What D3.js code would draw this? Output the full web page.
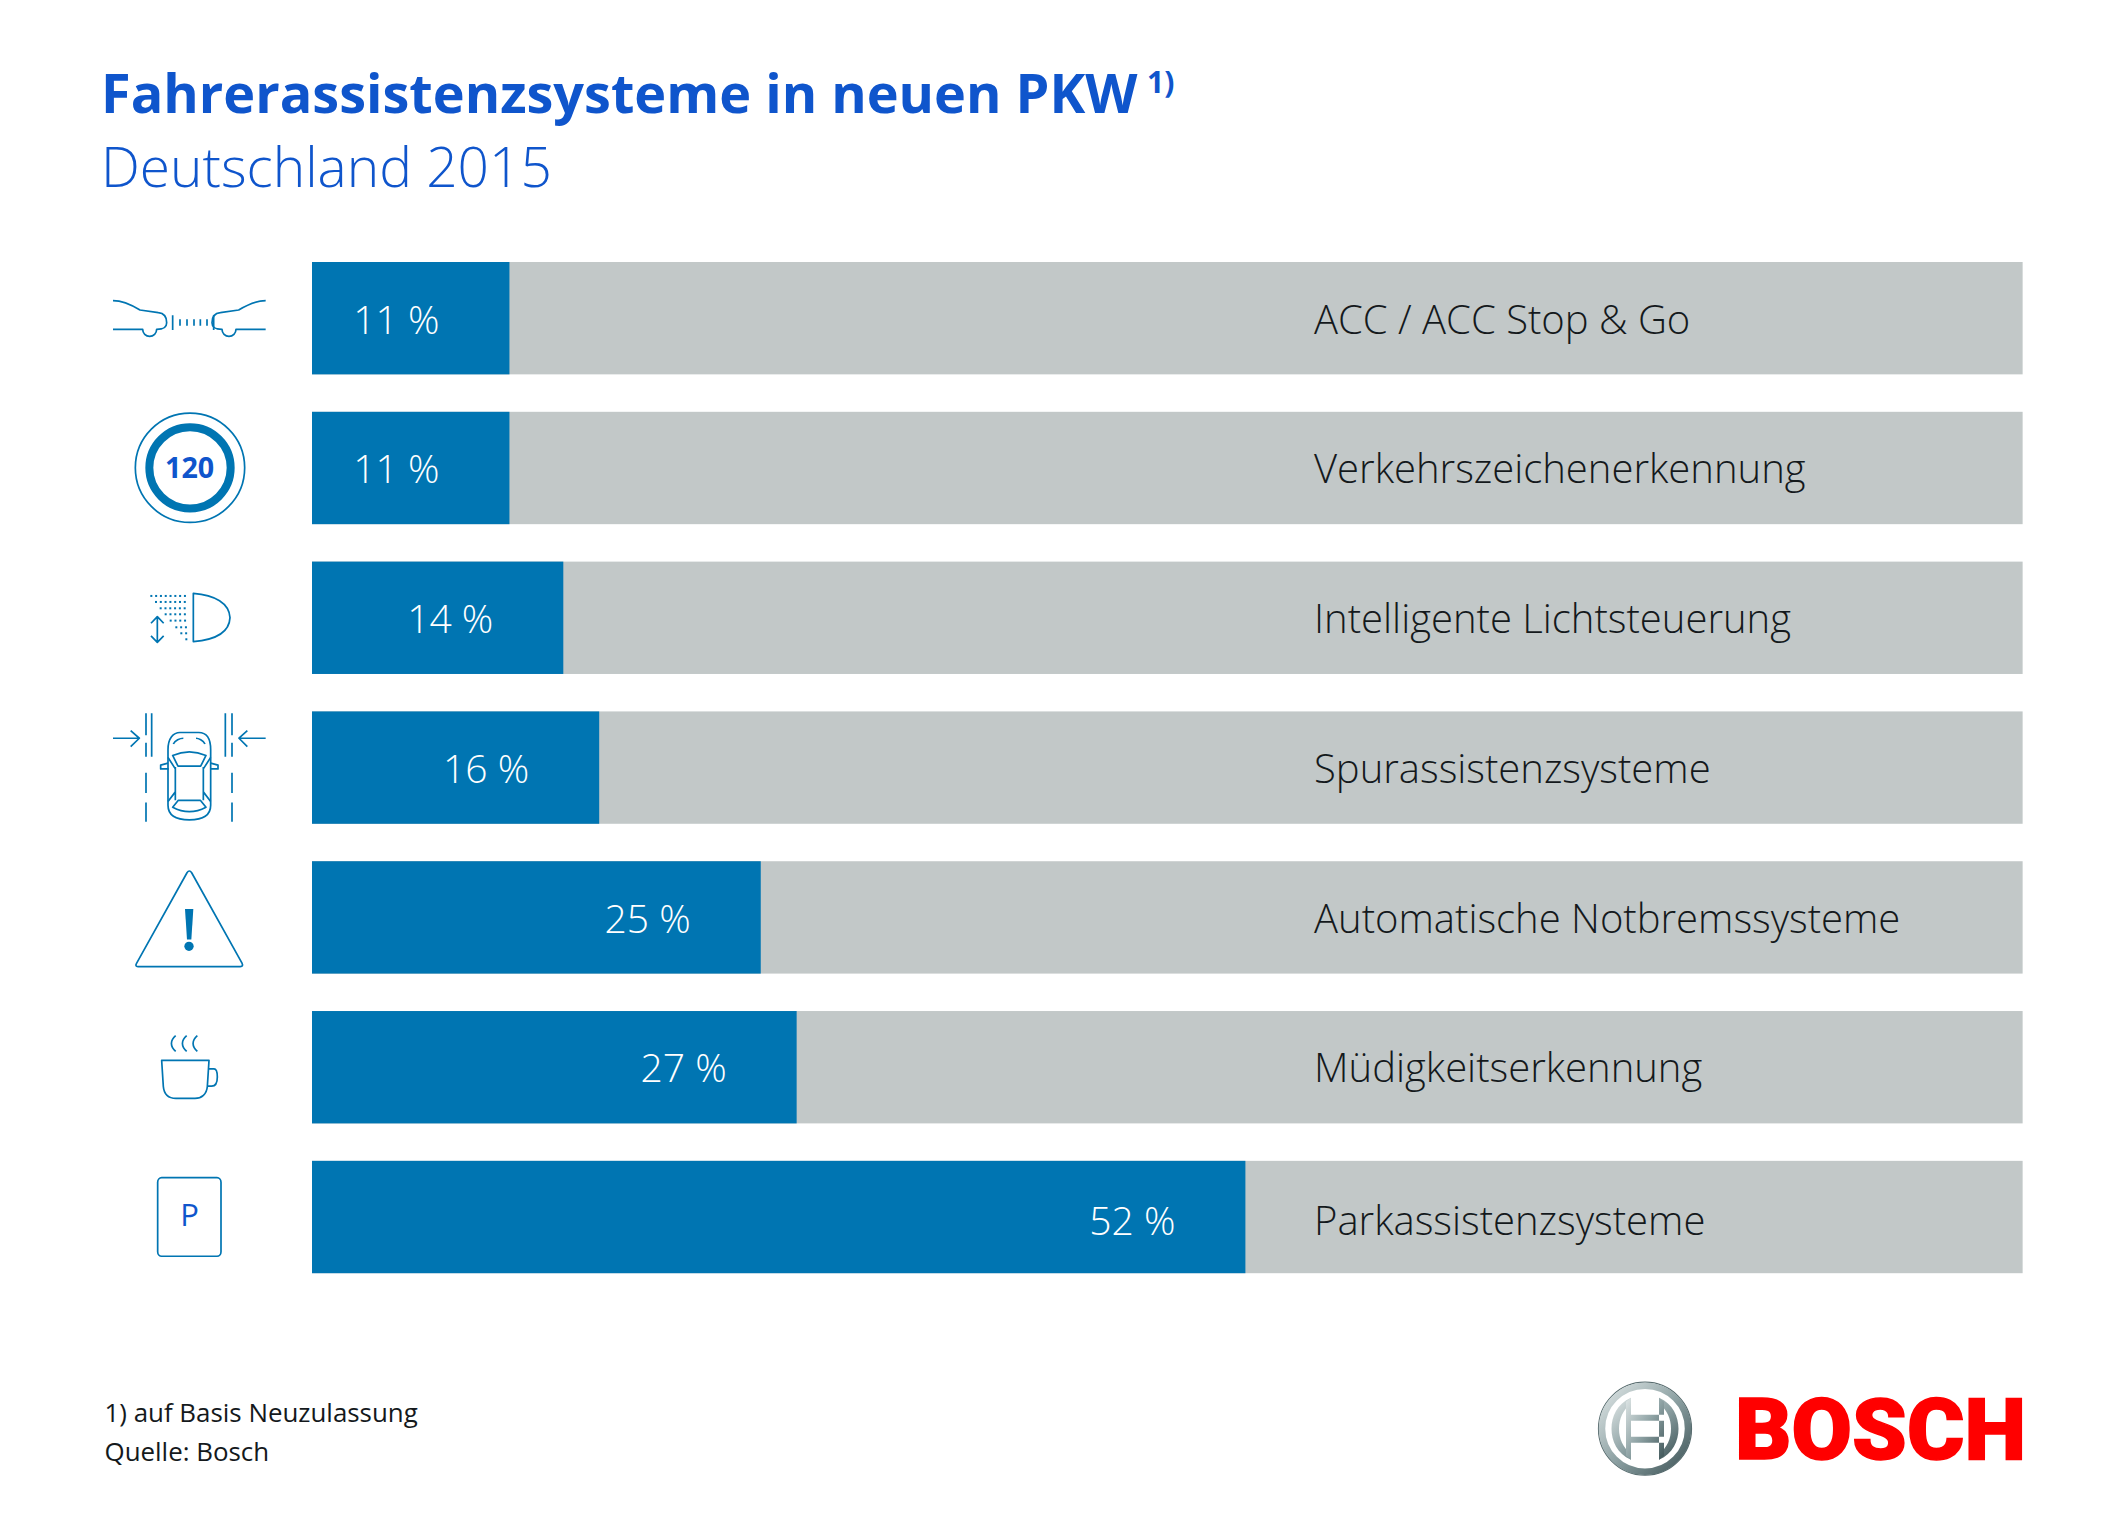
<!DOCTYPE html>
<html>
<head>
<meta charset="utf-8">
<title>Fahrerassistenzsysteme in neuen PKW</title>
<script src="https://cdn.jsdelivr.net/npm/d3@7"></script>
<style>
  html, body { margin: 0; padding: 0; background: #fff; }
  svg { display: block; }
  text { font-family: "Open Sans", sans-serif; }
  .icon path, .icon line, .icon circle, .icon rect {
    fill: none; stroke: #0075b2; stroke-width: 1.7px; vector-effect: non-scaling-stroke;
    stroke-linejoin: round;
  }
</style>
</head>
<body>
<div id="chart"></div>
<script>
// Data
var systems = ["ACC / ACC Stop & Go", "Verkehrszeichenerkennung", "Intelligente Lichtsteuerung",
  "Spurassistenzsysteme", "Automatische Notbremssysteme", "Müdigkeitserkennung", "Parkassistenzsysteme"];
var shares = [11, 11, 14, 16, 25, 27, 52];
var trackEnd = 95.3;   // the grey bar stops short of 100 in the original

var width = 2127, height = 1536;
var blue = "#0075b2", grey = "#c2c8c8", titleBlue = "#0f55cc", ink = "#14191c";

var svg = d3.select("#chart").append("svg")
    .attr("width", width)
    .attr("height", height);

var x = d3.scaleLinear().domain([0, 100]).range([312, 2107]);
var y = d3.scaleBand().domain(systems).range([262, 1273.2]).paddingInner(0.25);

// small baseline differences between the rows of the original
var rowNudge = [0, 0, 0, 0, 0, -1, 2.5];

// Title
svg.append("text").attr("x", 101).attr("y", 112.5)
    .attr("fill", titleBlue).attr("font-size", 54).attr("font-weight", 700)
    .text("Fahrerassistenzsysteme in neuen PKW");
svg.append("text").attr("x", 1147).attr("y", 93)
    .attr("fill", titleBlue).attr("font-size", 30).attr("font-weight", 700)
    .text("1)");
svg.append("text").attr("x", 101).attr("y", 186.5)
    .attr("fill", titleBlue).attr("font-size", 55).attr("font-weight", 300)
    .text("Deutschland 2015");

// Bars
var rows = svg.selectAll(".row")
    .data(systems)
  .enter().append("g")
    .attr("class", "row");

rows.append("rect")
    .attr("x", x(0))
    .attr("y", function(d) { return y(d); })
    .attr("width", x(trackEnd) - x(0))
    .attr("height", y.bandwidth())
    .attr("fill", grey);

rows.append("rect")
    .attr("x", x(0))
    .attr("y", function(d) { return y(d); })
    .attr("width", function(d, i) { return x(shares[i]) - x(0); })
    .attr("height", y.bandwidth())
    .attr("fill", blue);

rows.append("text")
    .attr("x", function(d, i) { return x(shares[i]) - 70; })
    .attr("y", function(d, i) { return y(d) + 71.5 + rowNudge[i]; })
    .attr("text-anchor", "end")
    .attr("fill", "#fff")
    .attr("font-size", 39)
    .attr("font-weight", 300)
    .text(function(d, i) { return shares[i] + " %"; });

rows.append("text")
    .attr("x", 1314)
    .attr("y", function(d, i) { return y(d) + 71.5 + rowNudge[i]; })
    .attr("fill", ink)
    .attr("font-size", 40)
    .attr("font-weight", 300)
    .text(function(d) { return d; });

// Icons, drawn in zoomed pixels relative to the bar top
function icon(i, sy) {
  return svg.append("g").attr("class", "icon")
    .attr("transform", "translate(90," + y(systems[i]) + ") scale(" + (1 / 3) + "," + (1 / sy) + ")");
}

// 0: two cars and distance
var g0 = icon(0, 3).append("g").attr("transform", "translate(0,-36)");
var car = "M69,152 C100,152 125,165 150,180 L205,188 C225,190 230,205 230,218 C230,232 222,238 200,238 A21,21 0 0 1 158,238 L69,238";
g0.append("path").attr("d", car);
g0.append("path").attr("d", car).attr("transform", "translate(596,0) scale(-1,1)");
g0.append("path").attr("d", "M248,196V240 M371,196V240 M270,208V227 M291,208V227 M312,208V227 M331,208V227 M351,208V227");

// 1: speed sign
var g1 = icon(1, 3).append("g").attr("transform", "translate(0,-486)");
g1.append("circle").attr("cx", 300).attr("cy", 654).attr("r", 164);
g1.append("circle").attr("cx", 300).attr("cy", 654).attr("r", 122).style("stroke-width", "8px");
g1.append("text").attr("x", 299).attr("y", 684).attr("text-anchor", "middle")
    .attr("fill", titleBlue).attr("font-size", 86).attr("font-weight", 700).text("120");

// 2: headlight
var g2 = icon(2, 3).append("g").attr("transform", "translate(0,-935)");
g2.append("path").attr("d", "M310,1030 L310,1175 C370,1170 418,1150 420,1103 C418,1060 375,1035 310,1030 Z");
g2.append("path").attr("d", "M202,1100 V1177 M183,1120 L202,1100 L221,1120 M183,1158 L202,1177 L221,1158");
[[1038, 183], [1056, 197], [1075, 211], [1093, 226], [1112, 241], [1132, 258], [1150, 273], [1168, 288]].forEach(function(r) {
  for (var dx = r[1]; dx <= 290; dx += 14.4) {
    g2.append("rect").attr("x", dx - 2).attr("y", r[0] - 3).attr("width", 6).attr("height", 6)
      .style("fill", blue).style("stroke", "none");
  }
});

// 3: lane keeping
var g3 = icon(3, 2.61).append("g").attr("transform", "translate(0,-30)");
g3.append("path").attr("d", "M168,35V92 M168,112V148 M168,190V243 M168,268V318 M185,35V148 M406,35V148 M426,35V92 M426,112V148 M426,190V243 M426,268V318");
g3.append("path").attr("d", "M69,100H148 M122,80L148,100L122,122 M527,100H447 M472,80L447,100L472,122");
g3.append("path").attr("d", "M234,130 C234,100 250,85 270,85 L326,85 C350,85 362,100 362,130 L362,275 C362,303 335,313 298,313 C260,313 234,303 234,275 Z");
g3.append("path").attr("d", "M248,145 C280,133 316,133 348,145 L332,173 L264,173 Z M248,280 C280,295 316,295 348,280 L331,262 L265,262 Z");
g3.append("path").attr("d", "M256,175V262 M340,175V262 M234,150L256,180 M362,150L340,180 M234,265L256,240 M362,265L340,240");
g3.append("path").attr("d", "M234,165L212,170V180H236 M362,165L384,170V180H360");
g3.append("path").attr("d", "M250,115 C255,105 270,100 280,100 M345,115 C340,105 325,100 318,100");

// 4: warning triangle
var g4 = icon(4, 2.61).append("g").attr("transform", "translate(0,-421)");
g4.append("path").attr("d", "M291,451 Q298,442 305,451 L456,687 Q461,696 451,696 L144,696 Q134,696 140,687 Z");
g4.append("path").attr("d", "M285,546 L310,546 L304,625 L291,625 Z").style("fill", blue).style("stroke", "none");
g4.append("ellipse").attr("cx", 297).attr("cy", 643).attr("rx", 14).attr("ry", 12).attr("fill", blue);

// 5: coffee cup
var g5 = icon(5, 2.61).append("g").attr("transform", "translate(0,-813)");
g5.append("path").attr("d", "M215,942 L357,942 L352,1010 C350,1030 335,1041 315,1041 L258,1041 C235,1041 222,1030 220,1010 Z");
g5.append("path").attr("d", "M356,964 L372,964 C380,964 382,972 382,985 C382,1000 378,1009 365,1009 L352,1009");
g5.append("path").attr("d", "M257,877 C240,890 240,905 257,918 M290,877 C273,890 273,905 290,918 M322,877 C305,890 305,905 322,918");

// 6: parking
var g6 = icon(6, 2.61).append("g").attr("transform", "translate(0,-1205)");
g6.append("rect").attr("x", 203).attr("y", 1249).attr("width", 190).attr("height", 205).attr("rx", 12);
svg.append("text").attr("x", 189.5).attr("y", 1161 + (1375 - 1205) / 2.61).attr("text-anchor", "middle")
    .attr("fill", titleBlue).attr("font-size", 31).text("P");

// Footnotes
svg.append("text").attr("x", 104.5).attr("y", 1422).attr("fill", ink).attr("font-size", 25.9)
    .text("1) auf Basis Neuzulassung");
svg.append("text").attr("x", 104.5).attr("y", 1460.5).attr("fill", ink).attr("font-size", 25.9)
    .text("Quelle: Bosch");

// Logo
var defs = svg.append("defs");
var steel = defs.append("linearGradient").attr("id", "steel")
    .attr("x1", 0).attr("y1", 0).attr("x2", 1).attr("y2", 1);
steel.append("stop").attr("offset", 0).attr("stop-color", "#dfe6e6");
steel.append("stop").attr("offset", 0.5).attr("stop-color", "#8fa3a5");
steel.append("stop").attr("offset", 1).attr("stop-color", "#3f5558");

var logo = svg.append("g").attr("transform", "translate(1645,1428.7)");
logo.append("circle").attr("r", 46.5).attr("fill", "none").attr("stroke", "#55696c").attr("stroke-width", 1.2);
logo.append("circle").attr("r", 43).attr("fill", "none").attr("stroke", "url(#steel)").attr("stroke-width", 6.5);
logo.append("path")
    .attr("d", "M-14,-31 C-28,-25 -33.5,-12 -33.5,0 C-33.5,12 -28,25 -14,31 L-14,25 C-22,19 -26,10 -26,0 C-26,-10 -22,-19 -14,-25 Z " +
               "M14,-31 C28,-25 33.5,-12 33.5,0 C33.5,12 28,25 14,31 L14,25 C22,19 26,10 26,0 C26,-10 22,-19 14,-25 Z")
    .attr("fill", "url(#steel)");
logo.append("path")
    .attr("d", "M-19,-27L-14,-31V31L-19,27Z M19,-27L14,-31V31L19,27Z M-19,-14H19V-8H-19Z M-19,8H19V14H-19Z")
    .attr("fill", "url(#steel)");
svg.append("text").attr("x", 1735).attr("y", 1459)
    .attr("textLength", 291).attr("lengthAdjust", "spacingAndGlyphs")
    .attr("fill", "#ff0000").attr("stroke", "#ff0000").attr("stroke-width", 1.5)
    .attr("font-size", 86).attr("font-weight", 900)
    .style("font-family", "Roboto, sans-serif")
    .text("BOSCH");
</script>
</body>
</html>
